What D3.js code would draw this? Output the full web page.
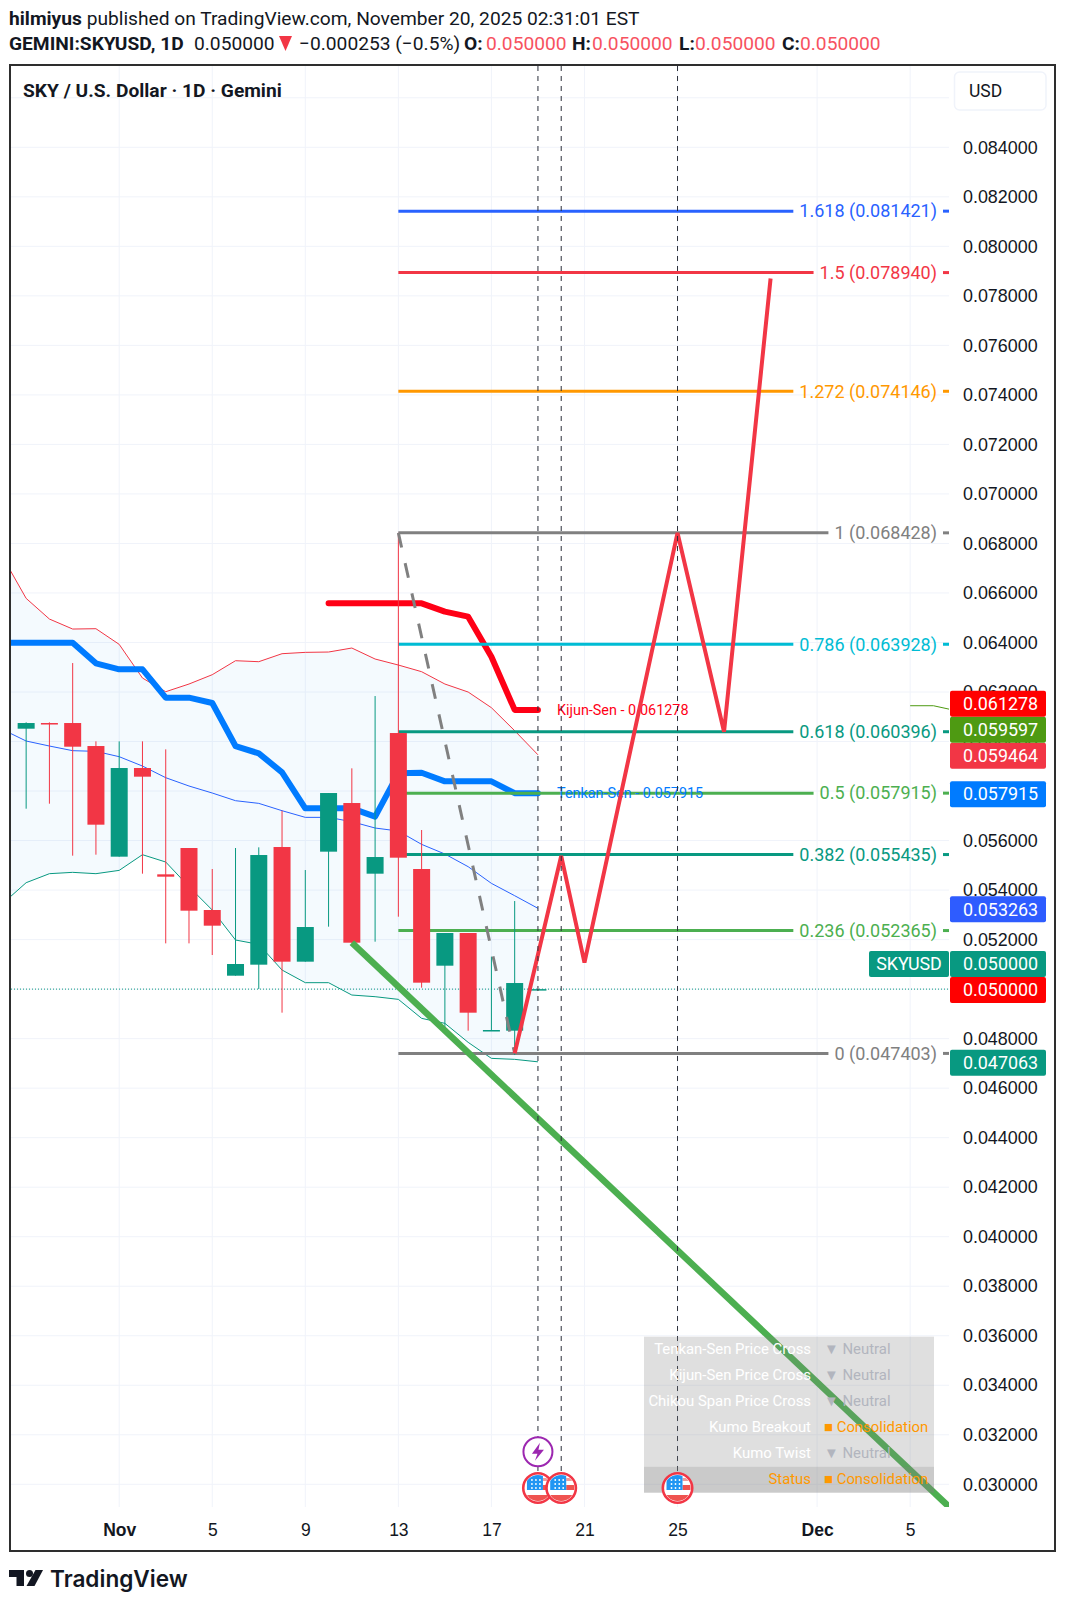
<!DOCTYPE html>
<html>
<head>
<meta charset="utf-8">
<title>SKYUSD</title>
<script src="https://cdn.jsdelivr.net/npm/d3@7"></script>
<style>
  html, body { margin: 0; padding: 0; background: #fff; }
  svg { display: block; font-family: Roboto, sans-serif; }
  text { fill: #131722; }
</style>
</head>
<body>
<div id="chart"></div>
<script>
// dias contados desde 1 nov (0 = 31 oct, -3 = 28 oct, 31 = 1 dic)
const candleDays = [-3,-2,-1,0,1,2,3,4,5,6,7,8,9,10,11,12,13,14,15,16,17,18,19];
const opens  = [.060518,.060747,.060747,.059818,.055349,.058930,.054636,.055699,.053195,.050542,.050987,.055739,.051108,.055551,.057516,.054662,.060343,.054851,.050946,.052266,.048321,.048321,.050000];
const highs  = [.060774,.060774,.063170,.060007,.060007,.060007,.059684,.055699,.054851,.055699,.055726,.057206,.054810,.057920,.058917,.061837,.068428,.056426,.052266,.052266,.051310,.053558,.050000];
const lows   = [.057287,.057489,.055389,.055430,.055349,.054662,.051848,.051848,.051377,.050542,.050004,.049048,.051108,.052522,.051875,.051916,.052925,.050058,.048214,.048321,.048321,.047338,.050000];
const closes = [.060747,.060720,.059791,.056641,.058930,.058580,.054541,.053168,.052562,.051014,.055416,.051108,.052508,.057920,.051875,.055335,.055308,.050260,.052266,.049048,.048348,.050246,.050000];

const bandDays = [-4,-3,-2,-1,0,1,2,3,4,5,6,7,8,9,10,11,12,13,14,15,16,17,18,19];
const bandUpper = [.067438,.065782,.064947,.064543,.064557,.063924,.062564,.062012,.062322,.062699,.063264,.063224,.063547,.063601,.063615,.063776,.063332,.063089,.062820,.062322,.061999,.061366,.060437,.059464];
const bandMid   = [.060478,.060020,.059818,.059630,.059603,.059387,.059010,.058539,.058203,.057920,.057610,.057502,.057206,.056937,.056937,.056762,.056506,.056385,.055846,.055456,.054945,.054271,.053773,.053263];
const bandLower = [.053464,.054298,.054662,.054716,.054662,.054796,.055429,.055133,.054137,.053194,.051983,.051808,.050771,.050260,.050260,.049761,.049694,.049586,.048819,.048617,.047850,.047203,.047163,.047063];
const tenkan = [.063992,.063992,.063992,.063992,.063157,.062915,.062915,.061770,.061770,.061555,.059818,.059522,.058755,.057301,.057301,.057301,.056964,.058714,.058741,.058392,.058392,.058392,.057915,.057915];
const kijunDays = [10,11,12,13,14,15,16,17,18,19];
const kijun = [.065581,.065581,.065581,.065581,.065581,.065244,.065042,.063426,.061278,.061278];
const spanDays = [35,36,37];
const span = [.061446,.061446,.061240];

const fibRatios = ["1.618","1.5","1.272","1","0.786","0.618","0.5","0.382","0.236","0"];
const fibPrices = [.081421,.078940,.074146,.068428,.063928,.060396,.057915,.055435,.052365,.047403];
const fibColors = ["#2962ff","#f23645","#ff9800","#808080","#00bcd4","#089981","#4caf50","#089981","#4caf50","#808080"];

const zigDays = [18,20,21,25,27,29];
const zigPrices = [.047403,.055380,.051070,.068428,.060396,.078700];
const trendDays = [11,36.68];
const trendPrices = [.051875,.029083];
const fibDiagDays = [13,18];
const fibDiagPrices = [.068428,.047403];

const priceTicks = [.030,.032,.034,.036,.038,.040,.042,.044,.046,.048,.050,.052,.054,.056,.058,.060,.062,.064,.066,.068,.070,.072,.074,.076,.078,.080,.082,.084];
const gridPrices = priceTicks.concat([.086]);
const dayTicks = [1,5,9,13,17,21,25,31,35];
const dayLabels = ["Nov","5","9","13","17","21","25","Dec","5"];
const eventDays = [19,20,25];

// de abajo hacia arriba, igual que la pila de etiquetas del eje
const tagPrices = [.047063,.050000,.050000,.053263,.057915,.059464,.059597,.061278];
const tagColors = ["#089981","#ff0000","#089981","#2e5cff","#007bff","#f23645","#4e9a12","#ff0000"];

const statusNames = ["Tenkan-Sen Price Cross","Kijun-Sen Price Cross","Chikou Span Price Cross","Kumo Breakout","Kumo Twist","Status"];
const statusValues = ["▼ Neutral","▼ Neutral","▼ Neutral","■ Consolidation","▼ Neutral","■ Consolidation"];

const RED = "#f23645", GREEN = "#089981";
const width = 1065, height = 1606;
const plot = { left: 11, right: 949, top: 66, bottom: 1507 };

const x = d3.scaleLinear().domain([1, 31]).range([119.2, 817.1]);
const y = d3.scaleLinear().domain([.030, .084]).range([1484.3, 147.3]);

const svg = d3.select("#chart").append("svg").attr("width", width).attr("height", height);

svg.append("defs").append("clipPath").attr("id", "plotClip").append("rect")
  .attr("x", plot.left).attr("y", plot.top)
  .attr("width", plot.right - plot.left).attr("height", plot.bottom - plot.top);

// encabezado
const head1 = svg.append("text").attr("x", 9).attr("y", 25).style("font-size", "19.2px");
head1.append("tspan").attr("font-weight", 700).text("hilmiyus");
head1.append("tspan").text(" published on TradingView.com, November 20, 2025 02:31:01 EST");

const head2 = svg.append("g").style("font-size", "19.2px");
const headParts = [
  [9, "GEMINI:SKYUSD, 1D", 700, "#131722"], [194, "0.050000", 400, "#131722"],
  [299, "−0.000253 (−0.5%)", 400, "#131722"],
  [464, "O:", 700, "#131722"], [486, "0.050000", 400, "#f7525f"],
  [572, "H:", 700, "#131722"], [592, "0.050000", 400, "#f7525f"],
  [679, "L:", 700, "#131722"], [695, "0.050000", 400, "#f7525f"],
  [782, "C:", 700, "#131722"], [800, "0.050000", 400, "#f7525f"]
];
headParts.forEach(([px, s, w, c]) => {
  head2.append("text").attr("x", px).attr("y", 50).attr("font-weight", w).style("fill", c).text(s);
});
svg.append("path").attr("d", "M279,36H292L285.5,51Z").attr("fill", RED);

// rejilla
const grid = svg.append("g").attr("stroke", "#f0f3fa").attr("stroke-width", 1);
grid.selectAll("line.h").data(gridPrices).join("line").attr("class", "h")
  .attr("x1", plot.left).attr("x2", plot.right).attr("y1", d => y(d)).attr("y2", d => y(d));
grid.selectAll("line.v").data(dayTicks).join("line").attr("class", "v")
  .attr("x1", d => x(d)).attr("x2", d => x(d)).attr("y1", plot.top).attr("y2", plot.bottom);

const area = svg.append("g").attr("clip-path", "url(#plotClip)");

// nube entre bandas
const cloud = d3.area().x((d, i) => x(bandDays[i])).y0((d, i) => y(bandLower[i])).y1(d => y(d));
area.append("path").datum(bandUpper).attr("d", cloud).attr("fill", "#2196f3").attr("fill-opacity", 0.05);

function drawLine(parent, days, values, color, w) {
  const gen = d3.line().x((d, i) => x(days[i])).y(d => y(d));
  return parent.append("path").datum(values).attr("d", gen).attr("fill", "none")
    .attr("stroke", color).attr("stroke-width", w);
}

drawLine(area, bandDays, bandUpper, RED, 1);
drawLine(area, bandDays, bandMid, "#2962ff", 1);
drawLine(area, bandDays, bandLower, GREEN, 1);
drawLine(area, spanDays, span, "#4e9a12", 1);
drawLine(area, bandDays, tenkan, "#007bff", 6).attr("stroke-linecap", "round").attr("stroke-linejoin", "round");
drawLine(area, kijunDays, kijun, "#ff0016", 6).attr("stroke-linecap", "round").attr("stroke-linejoin", "round");

// precio actual
area.append("line").attr("x1", plot.left).attr("x2", plot.right).attr("y1", y(.05)).attr("y2", y(.05))
  .attr("stroke", GREEN).attr("stroke-width", 1).attr("stroke-dasharray", "1 2");

// niveles de fibonacci
const fib = area.append("g");
fibPrices.forEach((p, i) => {
  const t = fib.append("text").attr("x", 937).attr("y", y(p)).attr("dy", "0.35em")
    .attr("text-anchor", "end").style("font-size", "18px").style("fill", fibColors[i])
    .text(`${fibRatios[i]} (${p.toFixed(6)})`);
  const tw = t.node().getComputedTextLength();
  fib.append("line").attr("x1", x(13)).attr("x2", 937 - tw - 6).attr("y1", y(p)).attr("y2", y(p))
    .attr("stroke", fibColors[i]).attr("stroke-width", 3);
  fib.append("line").attr("x1", 943).attr("x2", 949).attr("y1", y(p)).attr("y2", y(p))
    .attr("stroke", fibColors[i]).attr("stroke-width", 3);
});

// velas
const candles = area.append("g");
candleDays.forEach((d, i) => {
  const col = closes[i] >= opens[i] ? GREEN : RED;
  candles.append("line").attr("x1", x(d)).attr("x2", x(d)).attr("y1", y(highs[i])).attr("y2", y(lows[i]))
    .attr("stroke", col).attr("stroke-width", 1);
  const top = y(Math.max(opens[i], closes[i])), bot = y(Math.min(opens[i], closes[i]));
  candles.append("rect").attr("x", x(d) - 8.5).attr("width", 17)
    .attr("y", top).attr("height", Math.max(1.5, bot - top)).attr("fill", col);
});

// etiquetas de lineas
area.append("text").attr("x", 557).attr("y", y(.061278)).attr("dy", "0.35em").style("font-size", "14.4px")
  .style("fill", "#ff0016").text("Kijun-Sen - 0.061278");
area.append("text").attr("x", 557).attr("y", y(.057915)).attr("dy", "0.35em").style("font-size", "14.4px")
  .style("fill", "#007bff").text("Tenkan-Sen - 0.057915");

// dibujos
drawLine(area, trendDays, trendPrices, "#4caf50", 6.5);
drawLine(area, fibDiagDays, fibDiagPrices, "#808080", 3).attr("stroke-dasharray", "15 16");
drawLine(area, zigDays, zigPrices, RED, 4).attr("stroke-linejoin", "miter");

// lineas verticales de eventos
area.append("g").selectAll("line").data(eventDays).join("line")
  .attr("x1", d => x(d)).attr("x2", d => x(d)).attr("y1", plot.top).attr("y2", 1475)
  .attr("stroke", "#2a2e39").attr("stroke-width", 1).attr("stroke-dasharray", "5 5");

// tabla de estado
const rowH = 26, panelTop = 1336.7, panelLeft = 644, panelRight = 934;
const panel = svg.append("g");
panel.append("rect").attr("x", panelLeft).attr("y", panelTop).attr("width", panelRight - panelLeft)
  .attr("height", rowH * 5).attr("fill", "#808080").attr("fill-opacity", 0.25);
panel.append("rect").attr("x", panelLeft).attr("y", panelTop + rowH * 5).attr("width", panelRight - panelLeft)
  .attr("height", rowH).attr("fill", "#808080").attr("fill-opacity", 0.42);
statusNames.forEach((n, i) => {
  const cy = panelTop + rowH * i + rowH / 2 - 1;
  panel.append("text").attr("x", 811).attr("y", cy).attr("dy", "0.35em").attr("text-anchor", "end")
    .style("font-size", "14.9px").style("fill", i === 5 ? "#ff9800" : "#ffffff").text(n);
  panel.append("text").attr("x", 824).attr("y", cy).attr("dy", "0.35em")
    .style("font-size", "14.9px").style("fill", statusValues[i].includes("Neutral") ? "#b2b5be" : "#ff9800")
    .text(statusValues[i]);
});

// iconos de eventos
function flag(cx, cy) {
  const g = svg.append("g").attr("transform", `translate(${cx},${cy})`);
  const clipId = "flagClip" + Math.round(cx);
  g.append("clipPath").attr("id", clipId).append("circle").attr("r", 13);
  g.append("circle").attr("r", 14.7).attr("fill", "#fff").attr("stroke", RED).attr("stroke-width", 2.6);
  const inner = g.append("g").attr("clip-path", `url(#${clipId})`);
  inner.append("rect").attr("x", 5).attr("y", -3).attr("width", 9).attr("height", 5).attr("fill", "#ef5350");
  inner.append("rect").attr("x", 5).attr("y", -10).attr("width", 9).attr("height", 3).attr("fill", "#ef9a9a");
  inner.append("rect").attr("x", -14).attr("y", 7).attr("width", 28).attr("height", 7).attr("fill", "#ef5350");
  inner.append("rect").attr("x", -11).attr("y", -13).attr("width", 16).attr("height", 15).attr("fill", "#2196f3");
  [-8, -4, 0].forEach(sy => [-6, -2, 2].forEach(sx => {
    inner.append("circle").attr("cx", sx).attr("cy", sy).attr("r", 0.9).attr("fill", "#fff");
  }));
}
eventDays.forEach(d => flag(x(d), 1488));
const bolt = svg.append("g").attr("transform", `translate(${x(19)},1451.7)`);
bolt.append("circle").attr("r", 14.5).attr("fill", "#fff").attr("stroke", "#9c27b0").attr("stroke-width", 2);
bolt.append("path").attr("d", "M2,-9L-6,2H-0.5L-3,9L6,-2H0.5Z").attr("fill", "#9c27b0");

// ejes
const axisY = d3.axisRight(y).tickValues(priceTicks).tickSize(0).tickPadding(0).tickFormat(d3.format(".6f"));
const gy = svg.append("g").attr("transform", "translate(963,0)").call(axisY);
gy.select(".domain").remove();
gy.selectAll("text").style("font-size", "17.9px");

const axisX = d3.axisBottom(x).tickValues(dayTicks).tickSize(0).tickPadding(0)
  .tickFormat((d, i) => dayLabels[i]);
const gx = svg.append("g").attr("transform", "translate(0,1524)").call(axisX);
gx.select(".domain").remove();
gx.selectAll("text").style("font-size", "17.5px").attr("font-weight", (d, i) => i === 0 || i === 7 ? 700 : 400);

// etiquetas de precio a la derecha
const tags = svg.append("g");
let prevY = Infinity;
tagPrices.forEach((p, i) => {
  const cy = Math.min(y(p) + 1, prevY - 26);
  prevY = cy;
  tags.append("rect").attr("x", 950).attr("y", cy - 13).attr("width", 96).attr("height", 26).attr("rx", 2)
    .attr("fill", tagColors[i]);
  tags.append("text").attr("x", 963).attr("y", cy).attr("dy", "0.35em")
    .style("font-size", "17.9px").style("fill", "#fff").text(p.toFixed(6));
  if (i === 2) {
    tags.append("rect").attr("x", 869).attr("y", cy - 13).attr("width", 80).attr("height", 26).attr("rx", 2)
      .attr("fill", GREEN);
    tags.append("text").attr("x", 909).attr("y", cy).attr("dy", "0.35em").attr("text-anchor", "middle")
      .style("font-size", "17.9px").style("fill", "#fff").text("SKYUSD");
  }
});

// marco
svg.append("rect").attr("x", 10).attr("y", 65).attr("width", 1045).attr("height", 1486)
  .attr("fill", "none").attr("stroke", "#2e2e2e").attr("stroke-width", 2);

svg.append("text").attr("x", 23).attr("y", 97).attr("font-weight", 700).style("font-size", "19.2px")
  .text("SKY / U.S. Dollar · 1D · Gemini");
svg.append("rect").attr("x", 954.5).attr("y", 72).attr("width", 91.5).attr("height", 38).attr("rx", 5)
  .attr("fill", "#fff").attr("stroke", "#f0f3fa").attr("stroke-width", 1.5);
svg.append("text").attr("x", 969).attr("y", 97).style("font-size", "17.5px").text("USD");

// logo
const logo = svg.append("g").attr("fill", "#131722");
logo.append("path").attr("d", "M9,1570H24V1586H16.5V1577H9Z");
logo.append("circle").attr("cx", 29.5).attr("cy", 1573.5).attr("r", 3.5);
logo.append("path").attr("d", "M35.5,1570H43L34.5,1586H26.5Z");
svg.append("text").attr("x", 50).attr("y", 1587).attr("font-weight", 600).style("font-family", "Inter, sans-serif")
  .style("font-size", "22.6px").text("TradingView");
</script>
</body>
</html>
